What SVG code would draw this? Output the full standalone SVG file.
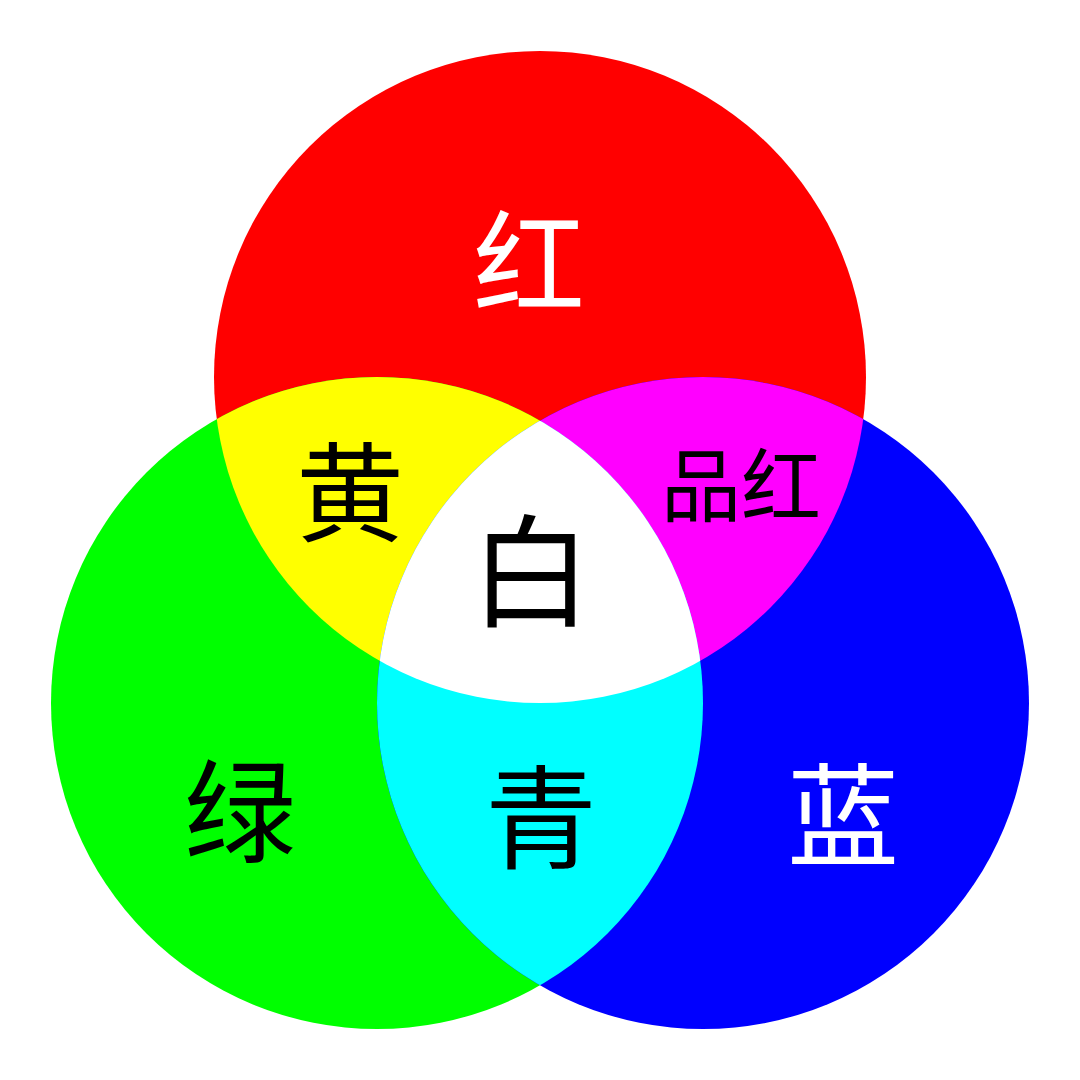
<svg xmlns="http://www.w3.org/2000/svg" width="1080" height="1080" viewBox="0 0 1080 1080">
<style>
text{font-family:"Noto Sans CJK SC","Noto Sans",sans-serif;text-anchor:middle;dominant-baseline:central}
.w{fill:#fff}.k{fill:#000}
</style>
<defs>
<clipPath id="cR"><circle cx="540" cy="377" r="326"/></clipPath>
<clipPath id="cG"><circle cx="377" cy="703" r="326"/></clipPath>
</defs>
<rect width="1080" height="1080" fill="#fff"/>
<g id="red"><circle cx="540" cy="377" r="326" fill="#f00"/></g>
<g id="green"><circle cx="377" cy="703" r="326" fill="#0f0"/></g>
<g id="blue"><circle cx="703" cy="703" r="326" fill="#00f"/></g>
<g id="yellow" clip-path="url(#cR)"><circle cx="377" cy="703" r="326" fill="#ff0"/></g>
<g id="magenta" clip-path="url(#cR)"><circle cx="703" cy="703" r="326" fill="#f0f"/></g>
<g id="cyan" clip-path="url(#cG)"><circle cx="703" cy="703" r="326" fill="#0ff"/></g>
<g id="white" clip-path="url(#cR)"><g clip-path="url(#cG)"><circle cx="703" cy="703" r="326" fill="#fff"/></g></g>
<g id="labels">
<text class="w" x="529" y="256" font-size="112">红</text>
<text class="k" x="350" y="486" font-size="108">黄</text>
<text class="k" x="741" y="480" font-size="80">品红</text>
<text class="k" x="531" y="563" font-size="122">白</text>
<text class="k" x="240" y="805" font-size="112">绿</text>
<text class="k" x="541" y="811" font-size="112">青</text>
<text class="w" x="843" y="809" font-size="112">蓝</text>
</g>
</svg>
